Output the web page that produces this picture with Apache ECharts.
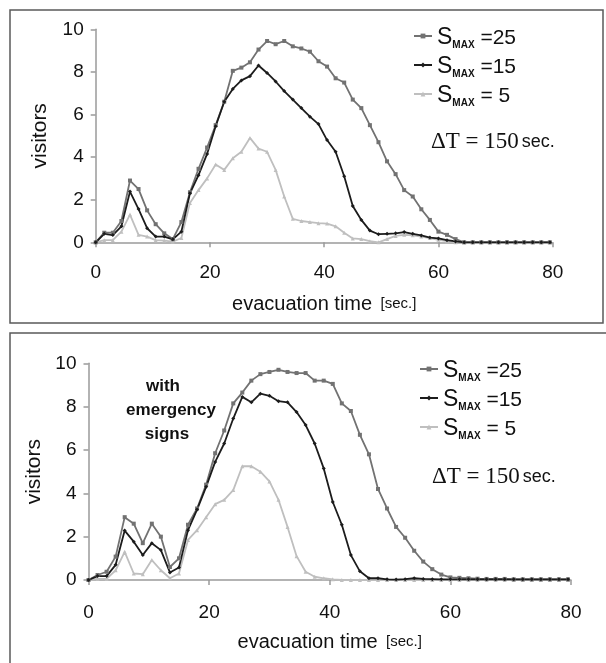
<!DOCTYPE html>
<html>
<head>
<meta charset="utf-8">
<script src="https://cdn.jsdelivr.net/npm/echarts@6/dist/echarts.min.js"></script>
<style>
html,body{margin:0;padding:0;background:#fff;}
#chart{width:606px;height:663px;}
</style>
</head>
<body>
<div id="chart"></div>
<script>
// time points (s)
var times = [0,1.5,3,4.5,6,7.5,9,10.5,12,13.5,15,16.5,18,19.5,21,22.5,24,25.5,27,28.5,30,31.5,33,34.5,36,37.5,39,40.5,42,43.5,45,46.5,48,49.5,51,52.5,54,55.5,57,58.5,60,61.5,63,64.5,66,67.5,69,70.5,72,73.5,75,76.5,78,79.5];

// top panel (without signs)
var top25 = [0,0.45,0.45,1.0,2.9,2.5,1.5,0.85,0.42,0.15,0.95,2.35,3.45,4.45,5.5,6.6,8.05,8.2,8.45,9.05,9.45,9.3,9.45,9.2,9.1,8.95,8.5,8.25,7.7,7.5,6.7,6.3,5.5,4.7,3.8,3.2,2.45,2.15,1.55,1.05,0.5,0.35,0.15,0,0,0,0,0,0,0,0,0,0,0];
var top15 = [0,0.4,0.34,0.75,2.38,1.56,0.66,0.27,0.27,0.14,0.5,2.3,3.15,4.15,5.45,6.6,7.2,7.6,7.8,8.3,7.95,7.55,7.1,6.7,6.3,5.9,5.55,4.8,4.25,3.1,1.7,1.05,0.55,0.38,0.4,0.42,0.48,0.4,0.32,0.22,0.18,0.1,0.04,0,0,0,0,0,0,0,0,0,0,0];
var top5 = [0,0.1,0.1,0.5,1.3,0.35,0.27,0.1,0.08,0.03,0.2,1.85,2.45,3.0,3.65,3.4,3.95,4.25,4.9,4.4,4.25,3.4,2.15,1.1,1.0,0.95,0.9,0.88,0.75,0.45,0.18,0.15,0.05,0,0.15,0.3,0.35,0.33,0.27,0.2,0.12,0.05,0,0,0,0,0,0,0,0,0,0,0,0];

// bottom panel (with emergency signs)
var bot25 = [0,0.23,0.38,1.08,2.9,2.6,1.7,2.6,2.0,0.6,1.0,2.55,3.3,4.4,5.85,6.9,8.15,8.65,9.2,9.5,9.6,9.7,9.6,9.55,9.55,9.2,9.2,9.05,8.15,7.8,6.7,5.8,4.2,3.3,2.45,1.95,1.35,0.85,0.5,0.25,0.12,0.1,0.08,0.06,0.05,0.05,0.05,0.03,0.03,0.03,0.03,0.03,0.03,0.03];
var bot15 = [0,0.18,0.18,0.7,2.28,1.77,1.15,1.7,1.38,0.35,0.58,2.3,3.25,4.3,5.45,6.3,7.45,8.45,8.2,8.6,8.5,8.25,8.2,7.75,7.15,6.3,5.15,3.6,2.55,1.15,0.4,0.08,0.08,0.03,0.02,0.04,0.08,0.05,0.04,0.03,0.03,0.03,0.03,0.03,0.03,0.03,0.03,0.03,0.03,0.03,0.03,0.03,0.03,0.03];
var bot5 = [0,0.05,0.05,0.45,1.3,0.3,0.27,0.92,0.45,0.08,0.3,1.85,2.3,2.9,3.5,3.7,4.15,5.25,5.25,5.0,4.55,3.7,2.45,1.1,0.38,0.15,0.08,0.03,0,0,0,0,0,0,0,0,0,0,0,0,0,0,0,0,0,0,0,0,0,0,0,0,0,0];

var xTicks = [0,20,40,60,80];
var yTicks = [0,2,4,6,8,10];
var legendNames = ['S25','S15','S5'];
var legendVals = ['25','15','5'];
var xTitle = 'evacuation time';
var xUnit = '[sec.]';
var yTitle = 'visitors';
var dtText = '\u0394T = 150';
var dtUnit = 'sec.';
var noteLines = ['with', 'emergency', 'signs'];

function pairs(vals){ return times.map(function(t,i){ return [t, vals[i]]; }); }

var C25 = '#727272', C15 = '#1c1c1c', C5 = '#bfbfbf';
var SANS = '"Liberation Sans", Arial, sans-serif';

function xAxisCfg(gi, margin, gap){
  return {
    gridIndex: gi, type: 'value', min: xTicks[0], max: xTicks[xTicks.length-1], interval: 20,
    axisLine: {lineStyle: {color: '#9a9a9a', width: 1.5}},
    axisTick: {show: true, length: 5, lineStyle: {color: '#9a9a9a', width: 1.5}},
    axisLabel: {fontSize: 19, color: '#111', fontFamily: SANS, margin: margin},
    splitLine: {show: false},
    name: '{a|' + xTitle + '}{b|  ' + xUnit + '}',
    nameLocation: 'middle', nameGap: gap,
    nameTextStyle: {rich: {
      a: {fontSize: 20, color: '#111', fontFamily: SANS},
      b: {fontSize: 15, color: '#111', fontFamily: SANS}
    }}
  };
}
function yAxisCfg(gi, margin, gap){
  return {
    gridIndex: gi, type: 'value', min: yTicks[0], max: yTicks[yTicks.length-1], interval: 2,
    axisLine: {show: true, lineStyle: {color: '#9a9a9a', width: 1.5}},
    axisTick: {show: true, length: 5, lineStyle: {color: '#9a9a9a', width: 1.5}},
    axisLabel: {fontSize: 19, color: '#111', fontFamily: SANS, margin: margin},
    splitLine: {show: false},
    name: yTitle, nameLocation: 'middle', nameGap: gap, nameRotate: 90,
    nameTextStyle: {fontSize: 21, color: '#111', fontFamily: SANS}
  };
}
function ser(name, data, gi, color, sym){
  return {
    name: name, type: 'line', xAxisIndex: gi, yAxisIndex: gi, data: pairs(data),
    symbol: sym, symbolSize: 4, showSymbol: true,
    lineStyle: {color: color, width: 1.8},
    itemStyle: {color: color},
    emphasis: {disabled: true}
  };
}
function legendCfg(left, top, suffix){
  return {
    orient: 'vertical', left: left, top: top, itemGap: 5, itemWidth: 18, itemHeight: 6,
    data: legendNames.map(function(n){ return n + suffix; }),
    formatter: function(name){
      var base = suffix ? name.slice(0, name.length - suffix.length) : name;
      var v = legendVals[legendNames.indexOf(base)];
      return '{s|S}{m|MAX}{e| =' + (v.length === 1 ? ' ' : '') + v + '}';
    },
    textStyle: {rich: {
      s: {fontSize: 23, color: '#111', fontFamily: SANS, verticalAlign: 'bottom', lineHeight: 26},
      m: {fontSize: 10, fontWeight: 'bold', color: '#111', fontFamily: SANS, verticalAlign: 'bottom', lineHeight: 26, padding: [0,0,-1,0]},
      e: {fontSize: 21, color: '#111', fontFamily: SANS, verticalAlign: 'bottom', lineHeight: 26}
    }}
  };
}
function dtGraphic(left, top){
  return {type: 'text', left: left, top: top, style: {text: '{a|' + dtText + '}{b|' + dtUnit + '}', rich: {
    a: {fontSize: 23, fontFamily: '"Liberation Serif", "Times New Roman", serif', fill: '#111', verticalAlign: 'bottom', lineHeight: 26},
    b: {fontSize: 18, fontFamily: SANS, fill: '#111', verticalAlign: 'bottom', lineHeight: 26, padding: [0,0,2,3]}
  }}};
}
function noteGraphic(txt, cx, cy){
  return {type: 'text', x: cx, y: cy, style: {text: txt, fontSize: 17, fontWeight: 'bold', fontFamily: SANS, fill: '#111', align: 'center', verticalAlign: 'middle'}};
}

var chart = echarts.init(document.getElementById('chart'), null, {renderer: 'canvas'});
chart.setOption({
  animation: false,
  backgroundColor: '#fff',
  grid: [
    {left: 95.7, top: 29.3, width: 457, height: 213},
    {left: 88.5, top: 363.3, width: 482.5, height: 216.7}
  ],
  xAxis: [xAxisCfg(0, 21, 52), xAxisCfg(1, 23, 52)],
  yAxis: [yAxisCfg(0, 12, 45), yAxisCfg(1, 12, 38)],
  legend: [legendCfg(408, 21, ''), legendCfg(414, 354, 'b')],
  series: [
    ser('S5', top5, 0, C5, 'triangle'),
    ser('S25', top25, 0, C25, 'rect'),
    ser('S15', top15, 0, C15, 'diamond'),
    ser('S5b', bot5, 1, C5, 'triangle'),
    ser('S25b', bot25, 1, C25, 'rect'),
    ser('S15b', bot15, 1, C15, 'diamond')
  ],
  graphic: [
    {type: 'rect', shape: {x: 10, y: 10, width: 593, height: 313}, style: {fill: 'none', stroke: '#5a5a5a', lineWidth: 1.5}, silent: true},
    {type: 'polyline', shape: {points: [[10, 663], [10, 333], [606, 333]]}, style: {fill: 'none', stroke: '#5a5a5a', lineWidth: 1.5}, silent: true},
    dtGraphic(431, 130),
    dtGraphic(432, 465),
    noteGraphic(noteLines[0], 163, 386),
    noteGraphic(noteLines[1], 171, 410),
    noteGraphic(noteLines[2], 167, 434)
  ]
});
</script>
</body>
</html>
